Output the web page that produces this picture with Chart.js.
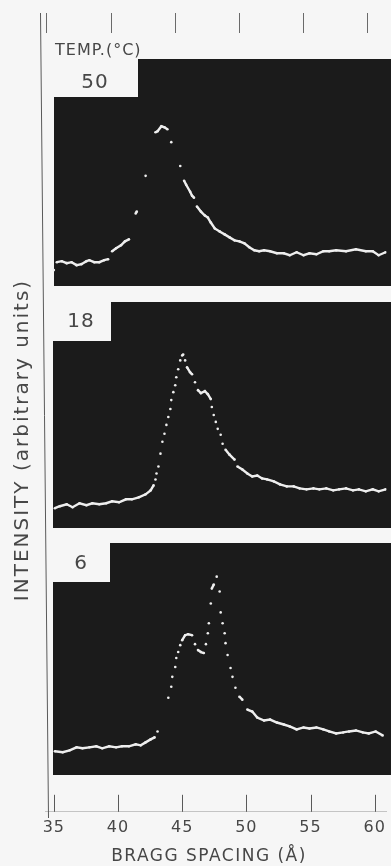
<!DOCTYPE html>
<html>
<head>
<meta charset="utf-8">
<title>Intensity vs Bragg spacing</title>
<script src="https://cdn.jsdelivr.net/npm/chart.js@4.4.1/dist/chart.umd.min.js"></script>
<style>
  html, body { margin: 0; padding: 0; background: #f6f6f6; }
  #plot { display: block; }
</style>
</head>
<body>
<canvas id="plot" width="391" height="866"></canvas>
<script>
// Bragg spacing (Å) and intensity (arbitrary units)
const spacing50 = [35.00, 35.23, 35.62, 36.00, 36.38, 36.77, 37.15, 37.54, 37.77, 38.15, 38.54, 38.92, 39.23, 39.54, 39.85, 40.23, 40.54, 40.85, 41.38, 41.46, 42.15, 42.92, 43.08, 43.38, 43.62, 43.85, 44.15, 44.85, 45.15, 45.31, 45.62, 45.77, 45.92, 46.15, 46.46, 46.77, 47.00, 47.23, 47.54, 47.92, 48.31, 48.69, 49.08, 49.46, 49.85, 50.23, 50.62, 51.00, 51.38, 51.85, 52.38, 52.92, 53.38, 53.92, 54.46, 54.92, 55.46, 56.00, 56.46, 57.00, 57.77, 58.54, 59.31, 59.85, 60.31, 60.85];
const intensity50 = [14, 22, 23, 21, 22, 19, 20, 23, 24, 22, 22, 24, 25, 33, 36, 39, 43, 45, 71, 73, 109, 153, 154, 159, 158, 156, 143, 119, 104, 100, 93, 89, 87, 78, 73, 69, 67, 62, 56, 53, 50, 47, 44, 43, 41, 37, 34, 33, 34, 33, 31, 31, 29, 32, 29, 31, 30, 33, 33, 34, 33, 35, 33, 33, 29, 32];

const spacing18 = [35.08, 35.46, 36.00, 36.46, 37.00, 37.54, 38.00, 38.54, 39.08, 39.54, 40.08, 40.62, 41.08, 41.62, 42.15, 42.54, 42.77, 42.92, 43.00, 43.15, 43.31, 43.46, 43.62, 43.77, 43.92, 44.08, 44.15, 44.31, 44.46, 44.54, 44.69, 44.85, 45.00, 45.08, 45.23, 45.38, 45.62, 45.77, 46.00, 46.23, 46.46, 46.77, 47.00, 47.23, 47.31, 47.46, 47.62, 47.77, 48.00, 48.15, 48.38, 48.69, 49.08, 49.31, 49.69, 50.08, 50.46, 50.85, 51.23, 51.62, 52.15, 52.62, 53.15, 53.69, 54.15, 54.69, 55.23, 55.69, 56.23, 56.77, 57.23, 57.77, 58.31, 58.77, 59.31, 59.85, 60.31, 60.85];
const intensity18 = [16, 18, 20, 17, 21, 19, 21, 20, 21, 23, 22, 25, 25, 27, 30, 34, 39, 45, 51, 58, 71, 83, 91, 100, 108, 116, 125, 133, 140, 148, 156, 165, 170, 171, 165, 158, 153, 151, 143, 135, 132, 134, 131, 126, 118, 110, 103, 96, 90, 81, 75, 70, 65, 58, 55, 51, 48, 49, 46, 45, 43, 40, 38, 38, 36, 35, 36, 35, 36, 34, 35, 36, 34, 35, 33, 35, 33, 35];

const spacing6 = [35.08, 35.69, 36.23, 36.77, 37.23, 37.77, 38.31, 38.77, 39.31, 39.85, 40.31, 40.85, 41.38, 41.77, 42.15, 42.54, 42.85, 43.08, 43.92, 44.15, 44.23, 44.46, 44.54, 44.69, 44.85, 45.00, 45.23, 45.46, 45.77, 46.00, 46.23, 46.46, 46.69, 46.85, 47.00, 47.08, 47.23, 47.31, 47.46, 47.69, 47.92, 48.00, 48.15, 48.31, 48.38, 48.54, 48.77, 48.92, 49.15, 49.46, 49.69, 50.08, 50.46, 50.85, 51.38, 51.85, 52.38, 52.92, 53.38, 53.92, 54.46, 54.92, 55.46, 56.00, 56.46, 57.00, 57.54, 58.00, 58.54, 59.08, 59.54, 60.08, 60.62];
const intensity6 = [18, 17, 19, 22, 21, 22, 23, 21, 23, 22, 23, 23, 25, 24, 27, 30, 32, 38, 72, 83, 93, 103, 112, 118, 125, 130, 135, 136, 135, 126, 120, 118, 117, 126, 137, 147, 167, 182, 186, 194, 179, 158, 147, 137, 127, 115, 102, 93, 82, 73, 70, 60, 58, 52, 49, 50, 47, 45, 43, 40, 42, 41, 42, 40, 38, 36, 37, 38, 39, 37, 36, 38, 34];

const tickValues = [35, 40, 45, 50, 55, 60];
const temps = ['50', '18', '6'];

// page layout (px)
const AREA_TOP = 33, AREA_BOTTOM = 818;
const INK = '#474747', SCREEN = '#1b1b1b', TRACE = '#eeeeee';
const panels = [
  { axis: 'y50', x: spacing50, y: intensity50, left: 54, notchX: 138, top: 59, shoulder: 97, bottom: 286, labelX: 95, labelY: 83 },
  { axis: 'y18', x: spacing18, y: intensity18, left: 53, notchX: 111, top: 302, shoulder: 341, bottom: 528, labelX: 81, labelY: 322 },
  { axis: 'y6', x: spacing6, y: intensity6, left: 53, notchX: 110, top: 543, shoulder: 582, bottom: 775, labelX: 81, labelY: 564 },
];

// fast beam moves on the scope show up as dots only
const steepGap = (ctx) =>
  Math.abs(ctx.p1.y - ctx.p0.y) > 1.6 * Math.abs(ctx.p1.x - ctx.p0.x) + 1 ? 'rgba(0,0,0,0)' : undefined;

const setTicks = (scale) => { scale.ticks = tickValues.map((v) => ({ value: v })); };

const frame = {
  id: 'frame',
  beforeDraw(chart) {
    chart.ctx.letterSpacing = '1px';
  },
  beforeDatasetsDraw(chart) {
    const { ctx, width } = chart;
    ctx.save();
    ctx.fillStyle = SCREEN;
    panels.forEach((p) => {
      ctx.beginPath();
      ctx.moveTo(p.notchX, p.top);
      ctx.lineTo(width, p.top);
      ctx.lineTo(width, p.bottom);
      ctx.lineTo(p.left, p.bottom);
      ctx.lineTo(p.left, p.shoulder);
      ctx.lineTo(p.notchX, p.shoulder);
      ctx.closePath();
      ctx.fill();
    });
    ctx.restore();
  },
  afterDraw(chart) {
    const { ctx } = chart;
    const x = chart.scales.x;
    ctx.save();
    ctx.strokeStyle = '#5a5a5a';
    ctx.lineWidth = 1;
    // tick marks standing on the bottom axis
    tickValues.forEach((v) => {
      const px = Math.round(x.getPixelForValue(v)) + 0.5;
      ctx.beginPath();
      ctx.moveTo(px, x.top);
      ctx.lineTo(px, x.top - 17);
      ctx.stroke();
    });
    // left frame line (slightly skewed in the print)
    ctx.beginPath();
    ctx.moveTo(40.5, 13);
    ctx.lineTo(48.5, AREA_BOTTOM);
    ctx.stroke();

    ctx.fillStyle = INK;
    ctx.textBaseline = 'middle';
    ctx.textAlign = 'left';
    ctx.font = '16px "DejaVu Sans"';
    ctx.fillText('TEMP.(°C)', 55, 51);
    ctx.textAlign = 'center';
    ctx.font = '20px "DejaVu Sans"';
    panels.forEach((p, i) => ctx.fillText(temps[i], p.labelX, p.labelY));

    // axis titles
    ctx.letterSpacing = '1.5px';
    ctx.font = '17px "DejaVu Sans"';
    ctx.fillText('BRAGG SPACING (Å)', 209, 857);
    ctx.translate(23, 440);
    ctx.rotate(-Math.PI / 2);
    ctx.letterSpacing = '2px';
    ctx.font = '20px "DejaVu Sans"';
    ctx.fillText('INTENSITY (arbitrary units)', 0, 0);
    ctx.restore();
    ctx.letterSpacing = '0px';
  },
};

const yScales = {};
panels.forEach((p) => {
  yScales[p.axis] = {
    type: 'linear',
    display: false,
    min: -(AREA_BOTTOM - p.bottom),
    max: p.bottom - AREA_TOP,
  };
});

Chart.defaults.font.family = '"DejaVu Sans", sans-serif';
Chart.defaults.color = INK;

new Chart(document.getElementById('plot'), {
  type: 'line',
  data: {
    datasets: panels.map((p, i) => ({
      label: temps[i] + ' °C',
      data: p.x.map((v, k) => ({ x: v, y: p.y[k] })),
      yAxisID: p.axis,
      xAxisID: 'x',
      borderColor: TRACE,
      backgroundColor: TRACE,
      borderWidth: 2.4,
      pointRadius: 1.3,
      pointBorderWidth: 0,
      tension: 0,
      segment: { borderColor: steepGap },
    })),
  },
  options: {
    responsive: false,
    animation: false,
    devicePixelRatio: 1,
    layout: { padding: { left: 45, top: 13, right: 0, bottom: 23 } },
    plugins: { legend: { display: false }, tooltip: { enabled: false } },
    scales: {
      x: {
        type: 'linear',
        position: 'bottom',
        min: 34.31,
        max: 60.92,
        afterBuildTicks: setTicks,
        grid: { display: false, drawTicks: false },
        border: { display: true, color: '#c4c4c4' },
        ticks: { padding: 6, color: INK, font: { size: 16 } },
      },
      x2: {
        type: 'linear',
        position: 'top',
        min: 34.85,
        max: 61.46,
        afterBuildTicks: setTicks,
        ticks: { display: false },
        grid: { drawOnChartArea: false, drawTicks: true, tickLength: 20, color: '#6a6a6a' },
        border: { display: false },
      },
      ...yScales,
    },
  },
  plugins: [frame],
});
</script>
</body>
</html>
